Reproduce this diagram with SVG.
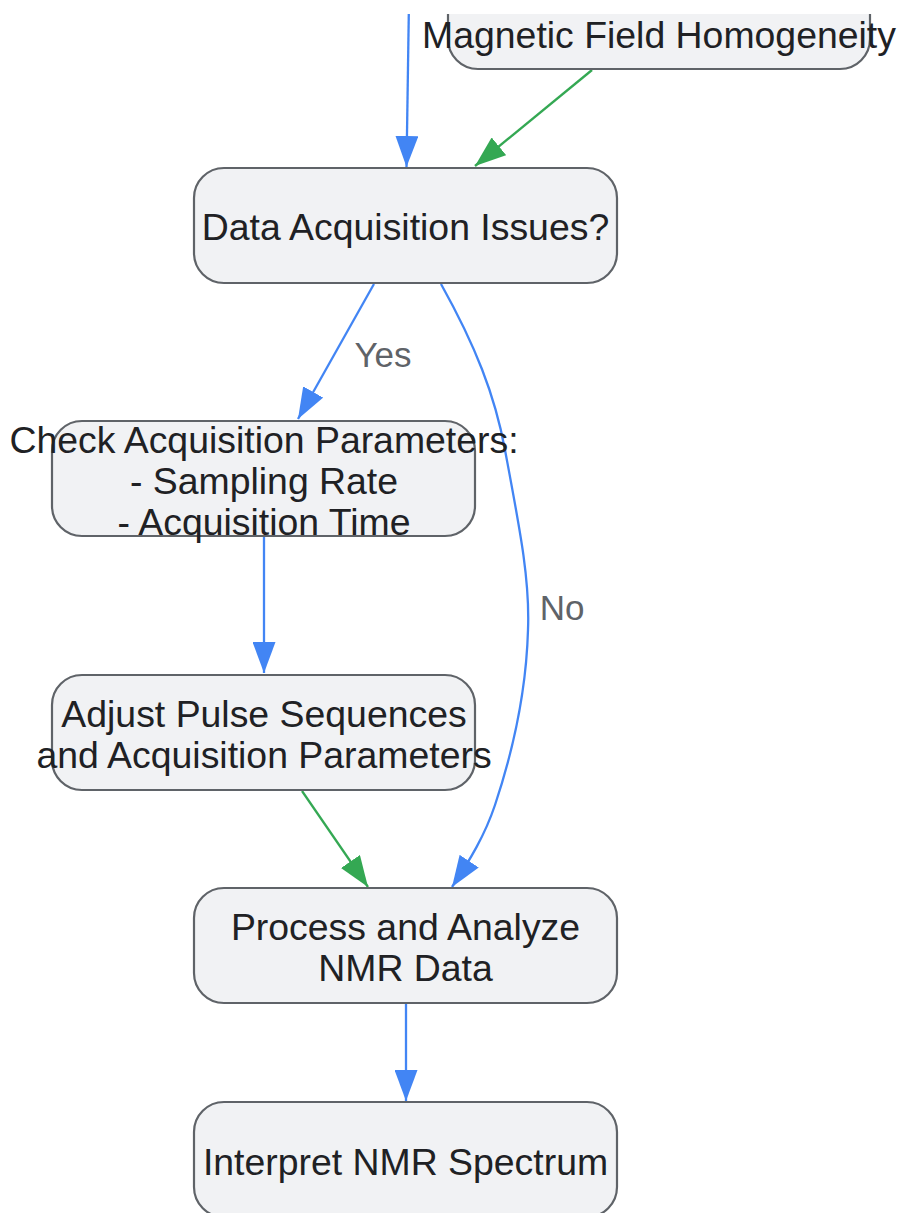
<svg xmlns="http://www.w3.org/2000/svg" width="898" height="1213" viewBox="0 0 898 1213">
<style>
.node rect{fill:#f1f2f4;stroke:#5f6368;stroke-width:2.2}
.node text{font-family:"Liberation Sans",Arial,sans-serif;font-size:37.4px;fill:#202124;text-anchor:middle}
.lbl{font-family:"Liberation Sans",Arial,sans-serif;font-size:35px;fill:#5f6368;text-anchor:middle}
.blue{fill:none;stroke:#4285f4;stroke-width:2.3}
.green{fill:none;stroke:#34a853;stroke-width:2.3}
</style>
<defs>
<clipPath id="clip"><rect x="0" y="14" width="898" height="1199"/></clipPath>
<marker id="ab" markerUnits="userSpaceOnUse" markerWidth="31" markerHeight="23" refX="31" refY="11.5" orient="auto"><path d="M0,0 L31,11.5 L0,23 z" fill="#4285f4"/></marker>
<marker id="ag" markerUnits="userSpaceOnUse" markerWidth="31" markerHeight="23" refX="31" refY="11.5" orient="auto"><path d="M0,0 L31,11.5 L0,23 z" fill="#34a853"/></marker>
</defs>
<rect width="898" height="1213" fill="#ffffff"/>
<g clip-path="url(#clip)">
<g id="connectors">
<path class="blue" d="M409,0 L406.5,167" marker-end="url(#ab)"/>
<path class="green" d="M592,70 L475,166" marker-end="url(#ag)"/>
<path class="blue" d="M374,284 L298,419" marker-end="url(#ab)"/>
<path class="blue" d="M441,284 C475,345 495,395 505,450 C520,530 530,580 528,630 C526,700 510,760 495,805 C485,835 470,860 452,887" marker-end="url(#ab)"/>
<path class="blue" d="M264,537 L264,673" marker-end="url(#ab)"/>
<path class="green" d="M302,791 L368,887" marker-end="url(#ag)"/>
<path class="blue" d="M406,1004 L406,1101" marker-end="url(#ab)"/>
<text class="lbl" x="383" y="367">Yes</text>
<text class="lbl" x="562" y="620">No</text>
</g>
<g id="magnetic" class="node">
<rect x="448" y="-60" width="422" height="129" rx="30"/>
<text x="659" y="48">Magnetic Field Homogeneity</text>
</g>
<g id="acq" class="node">
<rect x="194" y="168" width="423" height="115" rx="30"/>
<text x="405.5" y="240">Data Acquisition Issues?</text>
</g>
<g id="check" class="node">
<rect x="52" y="421" width="423" height="115" rx="30"/>
<text x="264" y="453">Check Acquisition Parameters:</text>
<text x="264" y="494">- Sampling Rate</text>
<text x="264" y="535">- Acquisition Time</text>
</g>
<g id="adjust" class="node">
<rect x="52" y="675" width="423" height="115" rx="30"/>
<text x="264" y="727">Adjust Pulse Sequences</text>
<text x="264" y="768">and Acquisition Parameters</text>
</g>
<g id="process" class="node">
<rect x="194" y="888" width="423" height="115" rx="30"/>
<text x="405.5" y="940">Process and Analyze</text>
<text x="405.5" y="981">NMR Data</text>
</g>
<g id="interpret" class="node">
<rect x="194" y="1102" width="423" height="115" rx="30"/>
<text x="405.5" y="1175">Interpret NMR Spectrum</text>
</g>
</g>
</svg>
